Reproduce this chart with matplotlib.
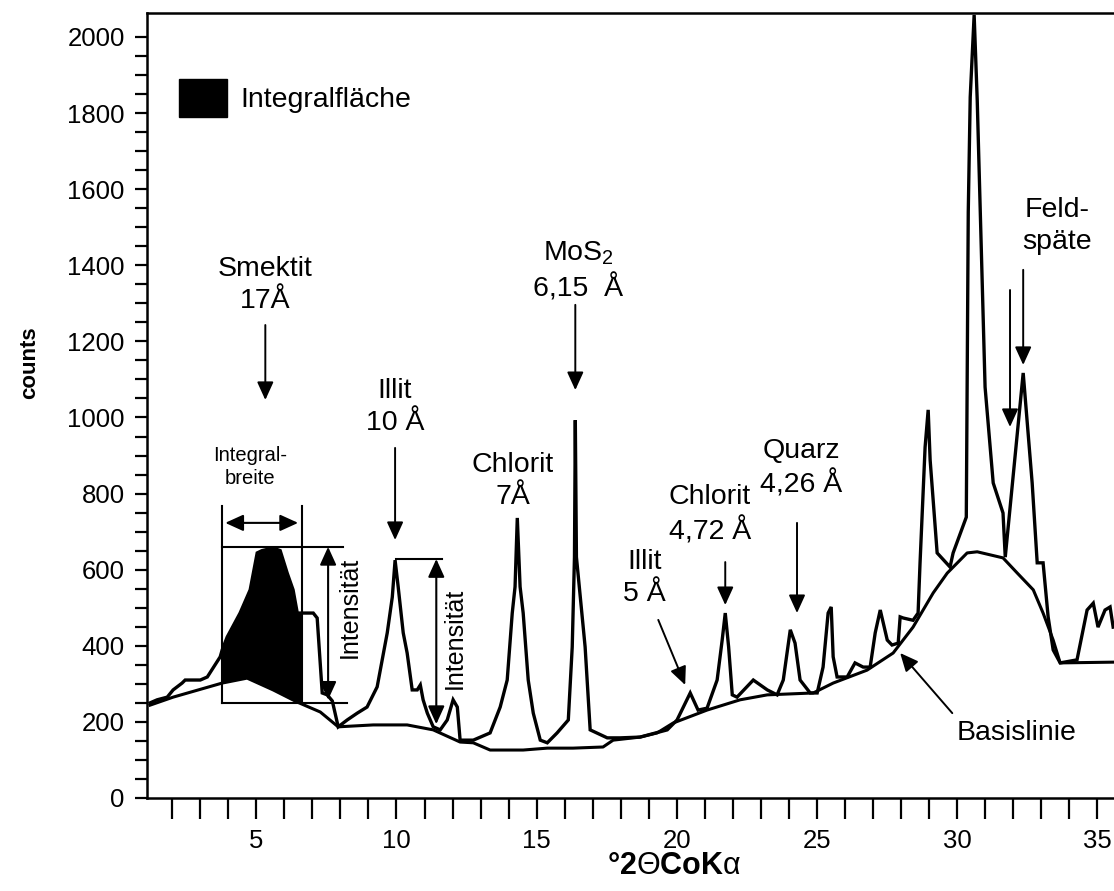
import matplotlib
matplotlib.use('Agg')
import matplotlib.pyplot as plt
import numpy as np
from matplotlib.patches import Patch

plt.rcParams['font.family'] = ['Liberation Sans', 'DejaVu Sans']
plt.rcParams['mathtext.fontset'] = 'custom'
plt.rcParams['mathtext.rm'] = 'Liberation Sans'
plt.rcParams['mathtext.it'] = 'Liberation Sans:italic'
plt.rcParams['mathtext.bf'] = 'Liberation Sans:bold'

# gemessenes Diffraktogramm (°2Theta, counts)
two_theta = [1.21, 1.46, 1.82, 2.03, 2.35, 2.46, 3.00, 3.25, 3.46, 3.71,
             3.78, 3.96, 4.42, 4.78, 5.03, 5.20, 5.60, 5.85, 6.10, 6.31,
             6.46, 6.64, 7.03, 7.17, 7.35, 7.53, 7.71, 7.92, 8.24, 8.60,
             8.95, 9.31, 9.67, 9.85, 9.95, 10.06, 10.24, 10.38, 10.56, 10.74,
             10.85, 10.95, 11.10, 11.31, 11.56, 11.81, 12.02, 12.17, 12.27, 12.74,
             13.34, 13.70, 13.95, 14.13, 14.23, 14.31, 14.41, 14.52, 14.70, 14.88,
             15.13, 15.38, 15.73, 16.13, 16.27, 16.35, 16.38, 16.42, 16.73, 16.91,
             17.52, 17.98, 18.69, 19.66, 20.01, 20.48, 20.76, 21.08, 21.44, 21.62,
             21.73, 21.85, 21.98, 22.15, 22.73, 23.23, 23.58, 23.80, 24.05, 24.22,
             24.40, 24.76, 25.01, 25.22, 25.40, 25.51, 25.58, 25.72, 26.08, 26.36,
             26.65, 26.90, 27.08, 27.26, 27.51, 27.68, 27.90, 27.97, 28.08, 28.43,
             28.61, 28.68, 28.86, 28.97, 29.04, 29.29, 29.75, 29.86, 30.33, 30.36,
             30.40, 30.47, 30.61, 30.72, 31.00, 31.29, 31.64, 31.72, 32.36, 32.68,
             32.86, 33.07, 33.25, 33.43, 33.68, 34.28, 34.64, 34.86, 35.03, 35.28,
             35.46, 35.57]
counts = [250, 258, 265, 284, 302, 310, 310, 318, 342, 371,
          389, 423, 486, 547, 644, 650, 657, 650, 591, 547,
          486, 486, 486, 473, 276, 271, 255, 187, 205, 223,
          239, 292, 434, 528, 625, 555, 434, 381, 284, 284,
          297, 258, 223, 187, 179, 205, 258, 239, 152, 152,
          171, 239, 310, 486, 555, 736, 555, 486, 310, 223,
          152, 145, 171, 205, 397, 633, 993, 633, 397, 179,
          158, 158, 160, 179, 205, 276, 231, 236, 310, 415,
          486, 397, 271, 265, 310, 284, 271, 310, 442, 407,
          310, 276, 276, 344, 486, 502, 371, 318, 318, 355,
          344, 344, 434, 494, 415, 402, 407, 476, 473, 467,
          486, 618, 922, 1020, 888, 644, 607, 644, 738, 1100,
          1540, 1842, 2058, 1834, 1080, 828, 749, 633, 1117, 828,
          618, 618, 476, 389, 355, 363, 494, 512, 449, 494,
          502, 449]

# Basislinie
base_theta = [1.21, 2.03, 3.78, 4.67, 5.60, 6.46, 7.28, 7.92, 9.17, 10.38,
              11.31, 12.27, 12.74, 13.34, 14.52, 15.38, 16.30, 17.37, 17.73, 18.69,
              19.30, 19.87, 21.08, 22.26, 23.23, 24.87, 25.58, 26.79, 27.72, 28.43,
              29.15, 29.65, 30.36, 30.72, 31.64, 32.15, 32.72, 33.07, 33.43, 33.68,
              35.6]
base_counts = [244, 265, 302, 315, 284, 252, 226, 187, 192, 192,
               179, 147, 145, 126, 126, 131, 131, 134, 152, 160,
               171, 197, 231, 258, 271, 276, 302, 336, 381, 449,
               539, 591, 644, 647, 631, 591, 547, 486, 415, 355,
               357]

# Integralflaeche des Smektit-Peaks
smektit_range = [3.78, 6.64]
smektit_box = [250, 660]

fig = plt.figure(figsize=(11.14, 8.91), dpi=100)
ax = fig.add_axes([0.132, 0.1044, 0.868, 0.881])

tt = np.array(two_theta)
cc = np.array(counts)
bt = np.array(base_theta)
bc = np.array(base_counts)

# schwarze Integralflaeche
xs = np.union1d(tt[(tt >= smektit_range[0]) & (tt <= smektit_range[1])],
                bt[(bt >= smektit_range[0]) & (bt <= smektit_range[1])])
ax.fill_between(xs, np.interp(xs, bt, bc), np.interp(xs, tt, cc),
                color='black', lw=0)

ax.plot(tt, cc, color='black', lw=2.4, solid_joinstyle='miter')
ax.plot(bt, bc, color='black', lw=2.2)

# Kasten Integralbreite / Intensitaet
x0, x1 = smektit_range
y0, y1 = smektit_box
ax.plot([x0, x0], [y0, 767], color='black', lw=1.5)
ax.plot([x1, x1], [y0, 767], color='black', lw=1.5)
ax.plot([x0, 8.1], [y1, y1], color='black', lw=1.5)
ax.plot([x0, 8.24], [y0, y0], color='black', lw=1.5)
ax.plot([10.0, 11.63], [628, 628], color='black', lw=1.5)

dbl = dict(arrowstyle='<|-|>,head_length=0.55,head_width=0.25', lw=1.5,
           color='black', mutation_scale=20, shrinkA=0, shrinkB=0)
ax.annotate('', xy=(3.89, 723), xytext=(6.49, 723), arrowprops=dbl)
ax.annotate('', xy=(7.56, 660), xytext=(7.56, 258), arrowprops=dbl)
ax.annotate('', xy=(11.42, 628), xytext=(11.42, 194), arrowprops=dbl)

ax.text(8.35, 502, 'Intensität', rotation=90, ha='center', va='center', fontsize=18)
ax.text(12.09, 420, 'Intensität', rotation=90, ha='center', va='center', fontsize=18)
ax.text(4.78, 870, 'Integral-\nbreite', ha='center', va='center', fontsize=14.5,
        linespacing=1.25)

one = dict(arrowstyle='-|>,head_length=0.55,head_width=0.25', lw=1.4,
           color='black', mutation_scale=20, shrinkA=0, shrinkB=0)
arrows = [((5.32, 1243), (5.32, 1046)),
          ((9.95, 920), (9.95, 678)),
          ((16.38, 1296), (16.38, 1072)),
          ((19.34, 468), (20.30, 297)),
          ((21.73, 620), (21.73, 507)),
          ((24.29, 723), (24.29, 486)),
          ((29.83, 223), (27.97, 381)),
          ((31.89, 1335), (31.89, 975)),
          ((32.36, 1388), (32.36, 1138))]
for tail, tip in arrows:
    ax.annotate('', xy=tip, xytext=tail, arrowprops=one)

labels = [(5.32, 1348, 'Smektit\n17Å'),
          (9.95, 1028, 'Illit\n10 Å'),
          (16.48, 1385, 'MoS$_2$\n6,15  Å'),
          (14.16, 833, 'Chlorit\n7Å'),
          (18.84, 578, 'Illit\n5 Å'),
          (21.19, 744, 'Chlorit\n4,72 Å'),
          (24.44, 867, 'Quarz\n4,26 Å'),
          (32.14, 171, 'Basislinie'),
          (33.57, 1503, 'Feld-\nspäte')]
for x, y, s in labels:
    ax.text(x, y, s, ha='center', va='center', fontsize=20.5, linespacing=1.3)

ax.legend(handles=[Patch(facecolor='black', edgecolor='black', label='Integralfläche')],
          loc='upper left', bbox_to_anchor=(0.033, 0.916), frameon=False,
          fontsize=20.5, handlelength=1.7, handleheight=1.7, handletextpad=0.45,
          borderaxespad=0, borderpad=0)

ax.set_xlim(1.1, 35.6)
ax.set_ylim(0, 2063)
ax.spines['right'].set_visible(False)
for s in ['left', 'bottom', 'top']:
    ax.spines[s].set_linewidth(1.8)

ax.set_xticks([5, 10, 15, 20, 25, 30, 35])
ax.set_xticks(range(2, 36), minor=True)
ax.set_yticks(range(0, 2001, 200))
ax.set_yticks(range(0, 2001, 50), minor=True)
ax.tick_params(axis='x', which='both', direction='out', length=15, width=1.6,
               labelsize=18.5, pad=7)
ax.tick_params(axis='y', which='both', direction='out', length=9, width=1.6,
               labelsize=18.5, pad=7)

ax.set_xlabel(r'$\mathbf{°2}\mathrm{Θ}\mathbf{CoK}\mathrm{α}$', fontsize=22)
ax.xaxis.set_label_coords(0.545, -0.087)
ax.xaxis.label.set_va('center')
ax.set_ylabel('counts', fontsize=16, fontweight='bold')
ax.yaxis.set_label_coords(-0.121, 0.555)
ax.yaxis.label.set_va('center')

fig.savefig('out.png', dpi=100)
